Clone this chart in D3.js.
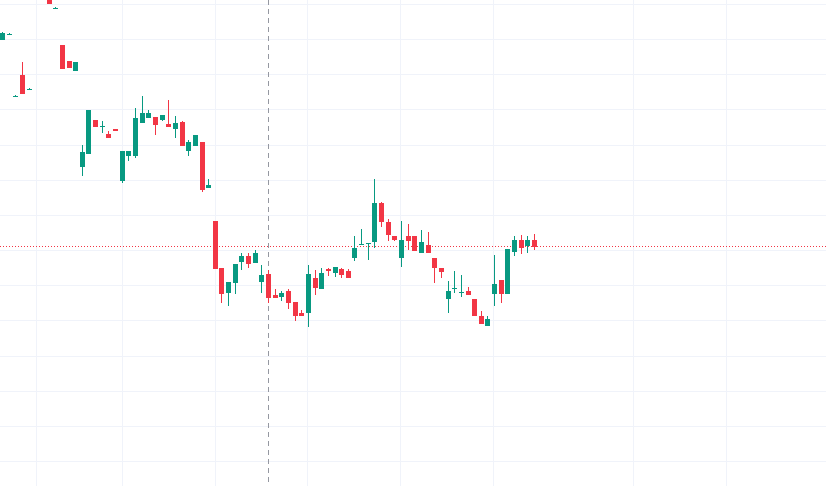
<!DOCTYPE html>
<html><head><meta charset="utf-8">
<script src="https://cdn.jsdelivr.net/npm/d3@7"></script>
<style>html,body{margin:0;padding:0;background:#fff;overflow:hidden}</style>
</head><body>
<svg id="c" width="826" height="486"></svg>
<script>
const slots = [0,1,2,3,4,7,8,9,10,11,12,13,14,15,16,17,18,19,20,21,22,23,24,25,26,27,28,29,30,31,32,33,34,35,36,37,38,39,40,41,42,43,44,45,46,47,48,49,50,51,52,53,54,55,56,57,58,59,60,61,62,63,64,65,66,67,68,69,70,71,72,73,74,75,76,77,78,79,80];
const opens = [446,452,390,411,397,489,478,441,425,415,319,332,366,359,352,357,305,330,330,363,368,369,366,362,357,364,335,340,344,298,265,218,193,203,224,230,223,204,212,191,189,195,184,173,173,208,197,217,213,217,215,228,242,243,244,283,264,250,228,250,250,233,241,228,218,187,198,194,195,187,170,160,192,206,192,234,246,240,246];
const highs = [454,453,391,424,398,489,479,441,425,424,341,376,366,365,355,357,335,335,378,390,376,369,371,386,370,365,346,351,344,307,265,218,204,222,233,233,236,221,216,197,195,197,184,176,221,216,218,218,219,218,217,250,257,243,307,284,267,250,265,262,250,256,254,228,218,205,215,211,199,187,175,170,231,206,237,250,251,250,252];
const lows = [446,451,389,392,396,482,477,417,418,415,310,332,359,353,348,355,303,325,328,363,368,351,365,359,348,340,330,340,294,298,217,183,180,192,216,218,223,193,183,188,185,177,165,170,159,191,197,210,209,208,208,225,242,226,238,259,245,245,219,236,235,233,233,203,208,173,193,189,191,170,162,160,180,183,192,230,232,233,236];
const closes = [453,452,390,392,397,482,478,417,418,424,334,376,359,360,348,355,335,335,368,373,373,361,371,359,363,340,344,351,296,301,217,192,204,222,230,222,233,211,188,188,193,183,170,170,212,198,213,215,219,211,208,238,242,243,283,264,251,246,246,245,235,244,233,218,214,195,198,194,191,170,162,167,202,192,237,246,238,246,239];
const lastPrice = 239.5;
const crossSlot = 40;

const svg = d3.select('#c');
const W = 826, H = 486;
const x = d3.scaleLinear().domain([0, 80]).range([2, 534]);
const y = d3.scaleLinear().domain([0, 486]).range([486, 0]);

// grid
const vGrid = [36,122,215,307,400,493,633,726];
const hGrid = d3.range(4, 486, 35.15);
svg.append('g').selectAll('line').data(vGrid).join('line')
  .attr('x1', d=>d+0.5).attr('x2', d=>d+0.5).attr('y1',0).attr('y2',H)
  .attr('stroke','#f0f3fa');
svg.append('g').selectAll('line').data(hGrid).join('line')
  .attr('y1', d=>Math.round(d)+0.5).attr('y2', d=>Math.round(d)+0.5).attr('x1',0).attr('x2',W)
  .attr('stroke','#f0f3fa');

// crosshair
svg.append('line').attr('x1', Math.round(x(crossSlot))+0.5).attr('x2', Math.round(x(crossSlot))+0.5)
  .attr('y1',0).attr('y2',H).attr('stroke','#9598a1').attr('stroke-dasharray','5,4');

// last price line
svg.append('line').attr('x1',0).attr('x2',W).attr('y1', y(lastPrice)).attr('y2', y(lastPrice))
  .attr('stroke','#F23645').attr('stroke-dasharray','1,2');

const data = slots.map((s,i)=>({s, o:opens[i], h:highs[i], l:lows[i], c:closes[i]}));
const col = d => d.c >= d.o ? '#089981' : '#F23645';
const g = svg.append('g');
g.selectAll('line.w').data(data).join('line').attr('class','w')
  .attr('x1', d=>Math.round(x(d.s))+0.5).attr('x2', d=>Math.round(x(d.s))+0.5)
  .attr('y1', d=>y(d.h)).attr('y2', d=>y(d.l)).attr('stroke', col);
g.selectAll('rect').data(data).join('rect')
  .attr('x', d=>Math.round(x(d.s))-2).attr('width',5)
  .attr('y', d=>y(Math.max(d.o,d.c)))
  .attr('height', d=>Math.max(1, Math.abs(y(d.o)-y(d.c))))
  .attr('fill', col);
</script>
</body></html>
